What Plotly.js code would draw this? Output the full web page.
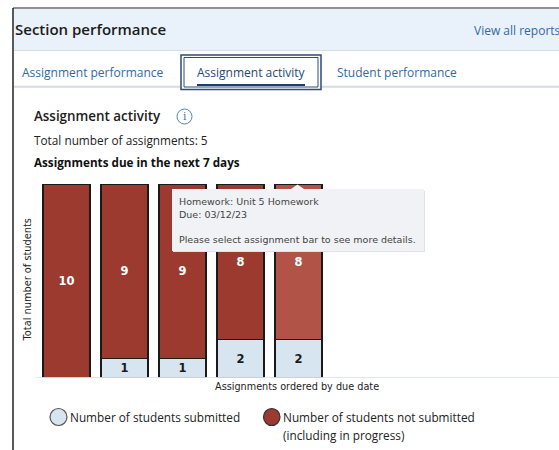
<!DOCTYPE html>
<html>
<head>
<meta charset="utf-8">
<script src="https://cdn.plot.ly/plotly-3.0.1.min.js"></script>
<style>html,body{margin:0;padding:0;background:#fff;overflow:hidden}#c{width:559px;height:450px}</style>
</head>
<body>
<div id="c"></div>
<script>
const assignments = ["A1","A2","A3","A4","A5"];
const submitted = [0,1,1,2,2];
const notSubmitted = [10,9,9,8,8];
const notSubmittedColors = ["#9c3a30","#9c3a30","#9c3a30","#9c3a30","#b25348"];
const submittedLabel = "Number of students submitted";
const notSubmittedLabel = "Number of students not submitted";
const notSubmittedNote = "(including in progress)";

const W = 559, H = 450;
const L = 37, R = 559, T = 184, B = 378;
const sans = "Open Sans, Lato, Liberation Sans, sans-serif";
const verd = "DejaVu Sans, sans-serif";
const px = x => (x - L) / (R - L);
const py = y => (B - y) / (B - T);

function rect(x0,y0,x1,y1,fill,line,lw){
  return {type:"rect",xref:"paper",yref:"paper",x0:px(x0),x1:px(x1),y0:py(y0),y1:py(y1),
    fillcolor:fill||"rgba(0,0,0,0)",line:{color:line||"rgba(0,0,0,0)",width:lw||0},layer:"above"};
}
function circle(x0,y0,x1,y1,fill,line,lw){
  return Object.assign(rect(x0,y0,x1,y1,fill,line,lw),{type:"circle"});
}
function seg(x0,y0,x1,y1,color,lw){
  return {type:"line",xref:"paper",yref:"paper",x0:px(x0),x1:px(x1),y0:py(y0),y1:py(y1),
    line:{color:color,width:lw},layer:"above"};
}
function label(x,y,text,size,color,opts){
  opts = opts || {};
  const weight = opts.weight || 400, family = opts.family || sans;
  const a = {xref:"paper",yref:"paper",x:px(x),y:py(y),text:text,showarrow:false,
    xanchor:opts.xanchor||"left",yanchor:"middle",font:{family:family,size:size,color:color,weight:weight},
    align:"left",borderpad:0,borderwidth:0};
  if (opts.textangle) a.textangle = opts.textangle;
  return a;
}

const shapes = [
  rect(14,9,559,50,"#e9f1fa"),
  seg(14,50.5,559,50.5,"#d8dde6",1),
  seg(14,86.8,559,86.8,"#d5dae6",2),
  seg(13,8,13,450,"#222222",1.5),
  seg(13,8,559,8,"#222222",1),
  rect(181,55,321,89.5,"#ffffff","#2f4a7c",1.5),
  rect(184,57.5,318,87,"#ffffff","#2f4a7c",1),
  seg(197,85,305,85,"#1d3d75",2),
  circle(177,109,192,124,"#ffffff","#4f82c0",1),
  seg(37,377.6,559,377.6,"#dfe4f2",1),
  rect(173,191,425,252,"#dfe3e7"),
  rect(172,189,424,251,"#f0f2f5"),
  {type:"path",xref:"paper",yref:"paper",
   path:`M ${px(291)} ${py(189)} L ${px(297.5)} ${py(184.5)} L ${px(304)} ${py(189)} Z`,
   fillcolor:"#f0f2f5",line:{width:0},layer:"above"},
  circle(50,408.5,67,425.5,"#d7e5f0","#555555",1.2),
  circle(263.5,408.5,280,425.5,"#9c3a30","#333333",1.2)
];

const annotations = [
  label(15,29,"Section performance",15,"#1c1c1c",{weight:600}),
  label(474,30,"View all reports",12,"#2f6aa5"),
  label(22,72,"Assignment performance",12,"#2f6aa5"),
  label(196.5,72,"Assignment activity",12,"#234a74"),
  label(337,72,"Student performance",12,"#2f6aa5"),
  label(34,116,"Assignment activity",13.4,"#1c1c1c",{weight:600}),
  label(184.5,116,"i",10.5,"#3f74b5",{xanchor:"center",family:"DejaVu Serif, serif"}),
  label(34,140,"Total number of assignments: 5",11.8,"#222222"),
  label(34,162,"Assignments due in the next 7 days",11.7,"#111111",{weight:700}),
  label(26.5,280,"Total number of students",9.8,"#222222",{xanchor:"center",textangle:-90,family:verd}),
  label(297,386.5,"Assignments ordered by due date",9.7,"#222222",{xanchor:"center",family:verd}),
  label(178.5,201.5,"Homework: Unit 5 Homework",9.5,"#444444",{family:verd}),
  label(178.5,214,"Due: 03/12/23",9.5,"#444444",{family:verd}),
  label(178.5,239,"Please select assignment bar to see more details.",9.5,"#444444",{family:verd}),
  label(70,417,submittedLabel,11.8,"#222222"),
  label(283,417,notSubmittedLabel,11.8,"#222222"),
  label(283,435,notSubmittedNote,11.8,"#222222")
];

const barFont = {family:verd,size:11.5,color:"#ffffff",weight:700};
const traces = [
  {type:"bar",name:"Number of students submitted",x:assignments,y:submitted,width:0.81,
   marker:{color:"#d7e5f0",line:{color:"#1a1a1a",width:1.3}},
   text:submitted.map(v=>v>0?String(v):""),textposition:"inside",insidetextanchor:"middle",
   insidetextfont:{family:verd,size:11.5,color:"#1a1a1a",weight:700},textangle:0,constraintext:"none",cliponaxis:false,hoverinfo:"skip"},
  {type:"bar",name:"Number of students not submitted",x:assignments,y:notSubmitted,width:0.81,
   marker:{color:notSubmittedColors,line:{color:"#1a1a1a",width:1.3}},
   text:notSubmitted.map(String),textposition:"inside",insidetextanchor:"middle",
   insidetextfont:barFont,textangle:0,constraintext:"none",cliponaxis:false,hoverinfo:"skip"}
];

const layout = {
  width:W,height:H,
  margin:{l:L,r:W-R,t:T,b:H-B,pad:0},
  paper_bgcolor:"#ffffff",plot_bgcolor:"#ffffff",
  barmode:"stack",showlegend:false,
  xaxis:{type:"category",range:[-0.509,8.49],showticklabels:false,ticks:"",showgrid:false,zeroline:false,showline:false,fixedrange:true},
  yaxis:{range:[0,10],showticklabels:false,ticks:"",showgrid:false,zeroline:false,showline:false,fixedrange:true},
  shapes:shapes,annotations:annotations
};
Plotly.newPlot("c",traces,layout,{displayModeBar:false,staticPlot:true});
</script>
</body>
</html>
